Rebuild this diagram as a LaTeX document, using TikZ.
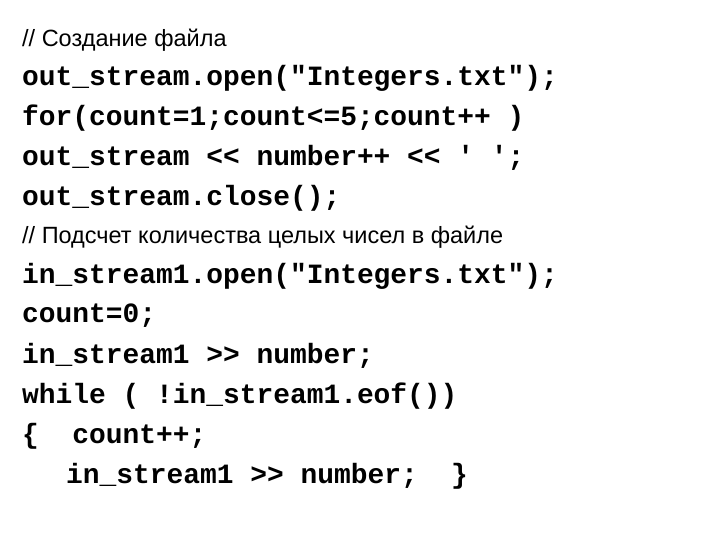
\documentclass[tikz,border=0pt]{standalone}
\usepackage{fontspec}
\newfontfamily\cmt{Liberation Sans}
\newfontfamily\code{Liberation Mono}
\begin{document}
\begin{tikzpicture}[x=1pt,y=1pt,
  c/.style={anchor=west,inner sep=0pt,font=\code\bfseries\fontsize{27.9}{30}\selectfont},
  m/.style={anchor=west,inner sep=0pt,font=\cmt\fontsize{23.5}{26}\selectfont}]
\useasboundingbox (0,0) rectangle (720,-540);
\node[m] (m1) at (22,-40) {// Создание файла};
\node[c] (l1) at (22,-78) {out\_stream.open("Integers.txt");};
\node[c] (l2) at (22,-118) {for(count=1;count<=5;count++ )};
\node[c] (l3) at (22,-158) {out\_stream << number++ << ' ';};
\node[c] (l4) at (22,-198) {out\_stream.close();};
\node[m] (m2) at (22,-237) {// Подсчет количества целых чисел в файле};
\node[c] (l5) at (22,-276) {in\_stream1.open("Integers.txt");};
\node[c] (l6) at (22,-316) {count=0;};
\node[c] (l7) at (22,-356) {in\_stream1 >> number;};
\node[c] (l8) at (22,-396) {while ( !in\_stream1.eof())};
\node[c] (l9) at (22,-436) {\{\ \ count++;};
\node[c] (l10) at (66,-476) {in\_stream1 >> number;\ \ \}};
\end{tikzpicture}
\end{document}
